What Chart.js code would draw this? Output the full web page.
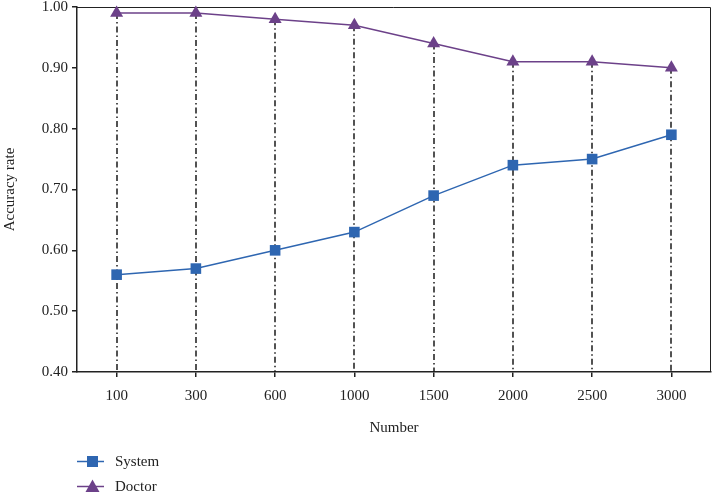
<!DOCTYPE html>
<html>
<head>
<meta charset="utf-8">
<script src="https://cdn.jsdelivr.net/npm/chart.js@4"></script>
<style>
  html, body { margin: 0; padding: 0; background: #fff; }
  #wrap { position: relative; width: 712px; height: 492px; }
  #legend { position: absolute; left: 77px; top: 449px; font-family: "Liberation Serif", serif; font-size: 15px; color: #222; }
  #legend div { height: 25px; line-height: 25px; display: flex; align-items: center; }
  #legend svg { margin-right: 11px; }
</style>
</head>
<body>
<div id="wrap">
  <canvas id="chart" width="712" height="492"></canvas>
  <div id="legend"></div>
</div>
<script>
// chart data
const categories = ['100', '300', '600', '1000', '1500', '2000', '2500', '3000'];
const systemValues = [0.56, 0.57, 0.60, 0.63, 0.69, 0.74, 0.75, 0.79];
const doctorValues = [0.99, 0.99, 0.98, 0.97, 0.94, 0.91, 0.91, 0.90];
const yTicks = [0.40, 0.50, 0.60, 0.70, 0.80, 0.90, 1.00];

const blue = '#2e66b1';
const purple = '#6c4189';
const serif = '"Liberation Serif", "Times New Roman", serif';

// dash-dot drop lines from the top series down to the x axis
const dropLines = {
  id: 'dropLines',
  beforeDatasetsDraw(chart) {
    const ctx = chart.ctx;
    const meta = chart.getDatasetMeta(1);
    const bottom = chart.chartArea.bottom;
    ctx.save();
    ctx.strokeStyle = '#1a1a1a';
    ctx.lineWidth = 1.5;
    ctx.setLineDash([6, 3, 1.5, 3]);
    meta.data.forEach(pt => {
      ctx.beginPath();
      ctx.moveTo(Math.round(pt.x), pt.y);
      ctx.lineTo(Math.round(pt.x), bottom);
      ctx.stroke();
    });
    ctx.restore();
  }
};

// thin frame on top and right
const frame = {
  id: 'frame',
  beforeDatasetsDraw(chart) {
    const a = chart.chartArea;
    const ctx = chart.ctx;
    ctx.save();
    ctx.strokeStyle = '#222';
    ctx.lineWidth = 1;
    ctx.beginPath();
    ctx.moveTo(a.left, a.top + 0.5);
    ctx.lineTo(a.right - 0.5, a.top + 0.5);
    ctx.lineTo(a.right - 0.5, a.bottom);
    ctx.stroke();
    ctx.restore();
  }
};

const ctx = document.getElementById('chart').getContext('2d');
const chart = new Chart(ctx, {
  type: 'line',
  data: {
    labels: categories,
    datasets: [{
      label: 'System',
      data: systemValues,
      borderColor: blue,
      backgroundColor: blue,
      borderWidth: 1.5,
      pointStyle: 'rect',
      pointRadius: 7.5,
      pointBorderWidth: 0,
      tension: 0,
      clip: false
    }, {
      label: 'Doctor',
      data: doctorValues,
      borderColor: purple,
      backgroundColor: purple,
      borderWidth: 1.5,
      pointStyle: 'triangle',
      pointRadius: 7.5,
      pointBorderWidth: 0,
      tension: 0,
      clip: false
    }]
  },
  options: {
    responsive: false,
    animation: false,
    layout: { autoPadding: false, padding: { top: 7, right: 1, left: 0, bottom: 0 } },
    plugins: {
      legend: { display: false },
      tooltip: { enabled: false }
    },
    scales: {
      x: {
        offset: true,
        grid: { display: true, drawOnChartArea: false, drawTicks: true, tickLength: 5, color: '#222', lineWidth: 1.5 },
        border: { color: '#222', width: 1.5 },
        ticks: { color: '#222', padding: 10, font: { family: serif, size: 15 } },
        title: { display: true, text: 'Number', color: '#222', font: { family: serif, size: 15 }, padding: { top: 0, bottom: 55 } },
        afterFit(scale) {
          scale.height = 120;
          scale.paddingLeft = 0;
          scale.paddingRight = 0;
        }
      },
      y: {
        min: 0.40,
        max: 1.00,
        afterBuildTicks(scale) { scale.ticks = yTicks.map(v => ({ value: v })); },
        grid: { display: true, drawOnChartArea: false, drawTicks: true, tickLength: 5, color: '#222', lineWidth: 1.5 },
        border: { color: '#222', width: 1.5 },
        ticks: {
          color: '#222',
          padding: 4,
          font: { family: serif, size: 15 },
          callback: v => v.toFixed(2)
        },
        title: { display: true, text: 'Accuracy rate', color: '#222', font: { family: serif, size: 15 }, padding: { top: 1, bottom: 0 } },
        afterFit(scale) {
          scale.width = 77;
          scale.paddingTop = 0;
          scale.paddingBottom = 0;
        }
      }
    }
  },
  plugins: [dropLines, frame]
});

// legend below the chart, built from the datasets
const legend = document.getElementById('legend');
chart.data.datasets.forEach(ds => {
  const row = document.createElement('div');
  const mark = ds.pointStyle === 'rect'
    ? `<rect x="10" y="4" width="11" height="11" fill="${ds.borderColor}"/>`
    : `<polygon points="15.5,2.5 22.5,15 8.5,15" fill="${ds.borderColor}"/>`;
  row.innerHTML = `<svg width="27" height="19"><line x1="0" y1="9.5" x2="27" y2="9.5" stroke="${ds.borderColor}" stroke-width="1.5"/>${mark}</svg><span>${ds.label}</span>`;
  legend.appendChild(row);
});
</script>
</body>
</html>
